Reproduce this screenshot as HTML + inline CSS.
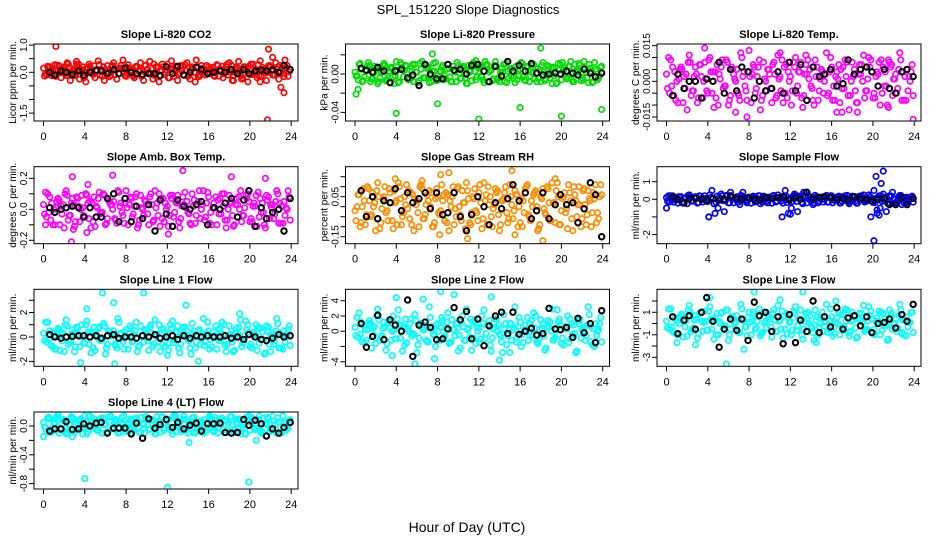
<!DOCTYPE html>
<html><head><meta charset="utf-8"><style>
html,body{margin:0;padding:0;background:#fff;}
svg{display:block;font-family:"Liberation Sans",sans-serif;}
</style></head><body>
<svg id="chart" width="936" height="540" viewBox="0 0 936 540" xmlns="http://www.w3.org/2000/svg">
<rect width="936" height="540" fill="#fff"/>
<text x="468" y="14" text-anchor="middle" font-size="13">SPL_151220  Slope Diagnostics</text>
<text x="467" y="532" text-anchor="middle" font-size="14">Hour of Day (UTC)</text>
</svg>
<script>
// shared time axis (hours)
const T = [0,0.3,0.6,0.9,1.2,1.5,1.8,2.1,2.4,2.7,3,3.3,3.6,3.9,4.2,4.5,4.8,5.1,5.4,5.7,6,6.3,6.6,6.9,7.2,7.5,7.8,8.1,8.4,8.7,9,9.3,9.6,9.9,10.2,10.5,10.8,11.1,11.4,11.7,12,12.3,12.6,12.9,13.2,13.5,13.8,14.1,14.4,14.7,15,15.3,15.6,15.9,16.2,16.5,16.8,17.1,17.4,17.7,18,18.3,18.6,18.9,19.2,19.5,19.8,20.1,20.4,20.7,21,21.3,21.6,21.9,22.2,22.5,22.8,23.1,23.4,23.7];
const BT = [0.6,1.1,1.7,2.2,2.8,3.4,3.9,4.5,5.1,5.6,6.2,6.8,7.3,7.9,8.5,9.0,9.6,10.2,10.8,11.3,11.9,12.5,13.0,13.6,14.2,14.8,15.3,15.9,16.5,17.1,17.6,18.2,18.8,19.4,19.9,20.5,21.1,21.6,22.2,22.8,23.3,23.9];
const xTicks = [0,4,8,12,16,20,24];

const co2Vals = [0.15,-0.1,0.2,0.05,-0.15,0.25,0.1,-0.05,0.3,0.0,-0.12,0.2,0.08,-0.2,0.15,0.22,-0.08,0.05,0.28,-0.15,0.1,0.0,0.2,-0.1,0.12,0.25,-0.05,0.18,0.02,-0.14,0.22,0.08,-0.1,0.26,0.0,0.15,-0.12,0.2,0.05,-0.08,0.3,0.1,-0.15,0.18,-0.02,0.24,0.06,-0.1,0.2,0.0,-0.16,0.25,0.1,-0.05,0.15,-0.12,0.28,0.04,-0.2,0.2,0.35,-0.3,0.1,0.4,-0.25,0.2,-0.35,0.3,0.0,-0.2,0.42,0.1,-0.3,0.25,-0.1,0.35,-0.25,0.15,0.45,-0.15];
const co2OutT = [1.2,21.8,22.2,14.7,23.0,23.3,21.7,3.2,18.4,21.0];
const co2OutV = [0.95,0.85,0.55,-0.35,-0.55,-0.75,-1.75,0.3,-0.3,-0.35];
const co2Black = [0.0,-0.1,0.05,0.0,-0.08,0.05,-0.1,0.0,0.08,0.05,-0.05,0.1,-0.05,0.15,0.0,-0.05,-0.08,-0.05,-0.05,-0.12,0.2,-0.05,0.22,-0.1,0.0,0.18,0.1,-0.05,0.0,0.05,0.0,0.1,-0.05,0.1,-0.05,0.05,0.08,0.05,0.1,0.0,0.25,0.1];

const presVals = [0.002,-0.006,0.005,-0.003,0.008,-0.008,0.001,0.006,-0.004,0.009,-0.007,0.003,0.007,-0.002,-0.009,0.01,0.004,-0.005,0.008,-0.008,0.002,0.011,-0.004,0.006,-0.009,0.003,0.012,-0.006,0.007,-0.002,0.01,-0.008,0.004,0.012,-0.005,0.008,-0.01,0.002,0.011,-0.006,0.006,-0.003,0.013,-0.008,0.004,0.009,-0.006,0.002,0.01,-0.009,0.005,-0.004,0.008,-0.002,0.011,-0.007,0.003,0.009,-0.005,0.006,-0.008,0.002,0.009,-0.004,0.007,-0.01,0.004,0.012,-0.003,0.008,-0.006,0.01,0.002,-0.007,0.013,-0.004,0.006,-0.008,0.003,-0.002];
const presOutT = [0.1,0.3,4.0,8.0,12.0,16.0,20.0,23.9,18.0,7.5,11.7];
const presOutV = [-0.021,-0.016,-0.041,-0.031,-0.047,-0.035,-0.044,-0.037,0.027,0.021,0.014];
const presBlack = [0.006,0.004,0.002,0.007,0.003,-0.009,0.003,0.005,-0.004,-0.001,-0.012,0.01,0.0,-0.005,-0.005,0.01,0.004,0.005,0.0,0.009,0.01,0.003,-0.008,0.008,-0.002,0.013,0.003,0.009,0.003,0.011,0.001,-0.001,0.0,0.001,0.0,0.003,0.001,-0.001,0.005,0.001,-0.003,0.001];

const tempVals = [0.003,-0.005,0.006,-0.008,0.001,0.005,-0.003,0.008,-0.006,0.002,-0.009,0.007,0.0,-0.004,0.01,0.004,-0.007,0.003,0.009,-0.002,-0.01,0.006,0.001,-0.005,0.012,0.004,-0.008,0.002,0.007,-0.003,0.009,-0.006,0.0,0.005,-0.009,0.003,0.011,-0.004,0.006,-0.007,0.002,0.008,-0.005,0.004,-0.011,0.007,0.001,-0.003,0.009,-0.008,0.005,0.0,-0.006,0.01,-0.002,0.004,-0.009,0.006,0.002,-0.012,0.008,-0.004,0.003,0.007,-0.007,0.001,0.009,-0.005,0.004,-0.01,0.006,-0.002,0.008,-0.006,0.003,0.005,-0.008,0.002,-0.004,0.004];
const tempOutT = [3.7,8.0,7.8,11.0,13.5,21.5,23.9,6.7,18.5,16.5,17.0];
const tempOutV = [0.014,0.013,-0.015,0.012,0.011,0.009,-0.016,-0.013,-0.013,-0.013,-0.013];
const tempBlack = [-0.006,0.003,-0.003,0.0,0.0,-0.007,0.001,0.0,0.008,-0.005,0.005,-0.004,0.006,0.004,-0.007,0.0,-0.004,-0.003,0.004,-0.005,0.008,-0.004,0.007,-0.008,0.006,0.002,0.003,0.005,-0.002,-0.001,0.009,0.003,0.005,0.006,0.004,-0.002,0.005,-0.003,-0.005,0.004,0.005,0.002];

const ambVals = [0.03,-0.05,0.08,-0.1,0.01,0.06,-0.03,0.1,-0.07,0.04,-0.11,0.07,0.0,-0.04,0.09,0.05,-0.08,0.02,0.11,-0.02,-0.1,0.06,0.03,-0.06,0.12,0.04,-0.09,0.01,0.08,-0.03,0.1,-0.07,0.0,0.05,-0.1,0.03,0.12,-0.04,0.07,-0.08,0.02,0.09,-0.05,0.04,-0.12,0.08,0.01,-0.03,0.1,-0.09,0.05,0.0,-0.07,0.11,-0.02,0.04,-0.1,0.07,0.02,-0.12,0.09,-0.04,0.03,0.08,-0.08,0.01,0.1,-0.06,0.04,-0.11,0.07,-0.02,0.09,-0.06,0.03,0.05,-0.09,0.02,-0.04,0.12];
const ambOutT = [13.5,6.7,2.8,18.2,21.5,2.7,4.3,12.1,0.2,2.9,4.2];
const ambOutV = [0.25,0.22,0.21,0.21,0.2,-0.21,0.16,-0.16,-0.1,-0.13,-0.15];
const ambBlack = [0.01,-0.02,0.0,0.01,0.02,0.01,-0.05,0.01,-0.05,-0.05,0.07,0.1,-0.08,0.07,-0.08,0.02,-0.06,0.03,-0.14,0.06,-0.03,-0.11,0.06,0.02,0.0,0.03,0.05,-0.1,0.01,0.0,0.04,0.07,-0.05,0.06,0.12,-0.11,0.01,-0.06,-0.02,0.0,-0.14,0.07];

const rhVals = [-0.02,0.06,-0.08,0.03,0.1,-0.05,0.0,0.08,-0.11,0.04,-0.03,0.09,-0.07,0.02,0.12,-0.09,0.05,-0.01,0.07,-0.12,0.03,0.1,-0.06,0.01,0.08,-0.1,0.04,-0.03,0.11,-0.07,0.06,0.0,-0.09,0.09,-0.04,0.02,0.12,-0.08,0.05,-0.02,0.07,-0.11,0.03,0.1,-0.05,0.01,0.08,-0.09,0.04,-0.03,0.11,-0.06,0.06,0.0,-0.1,0.09,-0.04,0.03,0.07,-0.12,0.05,-0.01,0.1,-0.07,0.02,0.08,-0.09,0.04,-0.03,0.11,-0.06,0.06,0.01,-0.1,0.09,-0.04,0.03,0.07,-0.08,0.05];
const rhOutT = [3.9,8.3,9.1,15.2,19.4,18.2,10.9,8.2,15.5,6.5];
const rhOutV = [0.14,0.16,0.17,0.18,0.14,-0.17,-0.16,-0.14,-0.14,0.13];
const rhBlack = [0.08,-0.05,0.05,-0.06,0.03,0.02,0.09,-0.02,0.07,0.02,0.04,0.07,-0.01,0.07,-0.04,-0.03,0.07,-0.05,-0.12,-0.04,0.05,0.0,-0.09,0.02,-0.01,0.04,0.11,0.03,0.07,-0.06,-0.02,0.07,-0.06,0.01,0.06,0.01,0.02,-0.08,-0.01,0.12,0.06,-0.15];

const sampVals = [0.1,-0.15,0.2,-0.05,0.15,-0.2,0.05,0.22,-0.1,0.12,-0.22,0.18,0.0,-0.12,0.25,0.05,-0.18,0.1,0.2,-0.08,-0.2,0.15,0.02,-0.15,0.22,0.08,-0.2,0.05,0.18,-0.1,0.2,-0.16,0.0,0.12,-0.22,0.1,0.25,-0.1,0.15,-0.18,0.05,0.2,-0.12,0.1,-0.25,0.18,0.0,-0.08,0.22,-0.2,0.12,0.0,-0.16,0.2,-0.05,0.1,-0.22,0.15,0.05,-0.25,0.18,-0.1,0.08,0.2,-0.15,0.05,-1.0,0.5,-0.8,-0.5,0.3,-0.7,0.2,0.4,-0.2,0.15,-0.3,0.1,-0.1,0.12];
const sampOutT = [4.1,12.0,20.3,21.0,20.8,20.1,20.4,20.6,13.5,7.4,0.0];
const sampOutV = [-1.0,-0.85,1.3,1.6,0.9,-2.35,-0.6,-0.9,0.4,0.4,-0.5];
const sampBlack = [0.15,0.0,-0.2,0.05,0.05,0.0,-0.05,0.05,-0.05,0.0,0.2,0.05,0.0,0.1,0.0,-0.05,0.1,0.05,0.1,0.15,-0.05,0.1,0.0,0.4,0.05,0.1,0.15,0.1,0.0,0.05,-0.05,0.15,0.05,0.0,-0.1,0.0,0.05,-0.3,-0.3,0.1,-0.3,0.05];

const l1Vals = [0.3,-0.4,0.5,-0.8,0.1,0.6,-0.3,1.0,-0.6,0.2,-1.2,0.7,0.0,-0.5,1.3,0.4,-0.9,0.2,0.8,-0.2,-1.4,0.5,0.1,-0.6,1.5,0.3,-1.0,0.0,0.9,-0.3,1.2,-0.7,0.1,0.5,-1.1,0.3,1.4,-0.4,0.6,-0.8,0.2,1.0,-0.5,0.4,-1.3,0.8,0.0,-0.3,1.1,-0.9,0.5,0.1,-0.7,1.2,-0.2,0.4,-1.0,0.7,0.2,-1.2,0.9,-0.4,0.3,0.8,-0.8,0.1,1.0,-0.6,0.4,-1.1,0.7,-0.2,0.9,-0.6,0.3,0.5,-0.9,0.2,-0.4,0.6];
const l1OutT = [5.7,9.7,6.8,3.6,6.9,13.8,15.0,12.0,4.2,1.2,22.0,19.0];
const l1OutV = [3.6,3.6,2.8,-2.1,-2.2,2.6,-2.0,-1.5,2.3,-1.0,-1.2,1.9];
const l1Black = [0.2,0.0,-0.1,0.0,0.05,0.1,0.1,0.0,0.1,-0.1,0.1,0.2,-0.1,0.0,0.0,-0.1,0.1,0.0,0.2,-0.1,0.0,0.1,-0.2,0.1,-0.1,0.1,0.0,0.1,0.0,0.0,0.1,-0.1,0.0,-0.2,0.2,0.0,-0.2,-0.3,-0.1,0.2,0.0,0.1];

const l2Vals = [0.5,-0.8,1.2,-1.5,0.2,1.0,-0.5,2.0,-1.2,0.4,-2.5,1.4,0.0,-1.0,2.8,0.8,-1.8,0.3,1.6,-0.4,-2.8,1.0,0.2,-1.2,3.2,0.6,-2.0,0.0,1.8,-0.6,2.4,-1.4,0.2,1.0,-2.2,0.6,2.9,-0.8,1.2,-1.6,0.4,2.0,-1.0,0.8,-2.6,1.6,0.0,-0.6,2.2,-1.8,1.0,0.2,-1.4,1.8,-0.4,0.8,-1.2,1.4,0.4,-1.6,1.5,-0.6,0.5,1.2,-1.2,0.2,1.6,-0.9,0.6,-1.5,1.0,-0.3,1.4,-0.9,0.5,0.8,-1.4,0.3,-0.6,1.0];
const l2OutT = [8.3,5.8,4.0,9.6,13.2,14.0,7.7,10.0,3.6,15.0,6.6];
const l2OutV = [5.2,-4.3,4.4,4.8,4.5,-3.8,-3.6,-2.6,-3.2,-2.8,4.2];
const l2Black = [1.0,-2.1,-0.7,2.1,-1.1,1.5,0.8,0.0,4.1,-3.3,0.8,1.2,0.5,-1.1,-1.0,0.3,3.1,1.5,2.6,-1.0,1.6,-1.9,0.7,2.0,2.5,-0.3,2.5,-0.4,0.0,0.4,-0.5,-0.3,3.0,0.3,0.2,0.5,-0.8,1.7,-0.2,1.0,-1.5,2.7];

const l3Vals = [0.2,-0.5,0.6,-0.9,0.0,0.8,-0.3,1.2,-0.7,0.3,-1.3,0.9,0.1,-0.6,1.5,0.4,-1.0,0.2,1.0,-0.2,-1.5,0.6,0.0,-0.7,1.7,0.3,-1.1,0.1,1.0,-0.4,1.3,-0.8,0.2,0.6,-1.2,0.3,1.6,-0.5,0.7,-0.9,0.2,1.1,-0.6,0.4,-1.4,0.9,0.0,-0.4,1.2,-1.0,0.6,0.1,-0.8,1.3,-0.3,0.5,-1.0,0.8,0.2,-1.1,1.0,-0.4,0.4,0.9,-0.7,0.2,1.1,-0.5,0.5,-1.0,0.9,-0.2,1.2,-0.5,0.4,0.7,-0.8,0.3,-0.3,1.0];
const l3OutT = [5.8,8.5,13.2,7.5,4.2,11.0,16.4,1.0,2.8,14.5,22.8];
const l3OutV = [-3.6,2.8,2.8,-2.3,2.3,2.1,2.0,-1.7,-1.9,-1.7,-0.9];
const l3Black = [0.6,-0.9,0.3,0.7,-0.5,1.0,2.3,0.2,-2.1,-0.5,0.4,-0.6,0.4,-1.5,1.9,0.7,1.0,-0.7,0.6,-1.8,0.8,-1.7,0.3,-0.7,2.0,-0.8,0.6,-0.3,1.4,-0.5,0.5,0.7,-0.2,0.6,-0.8,0.0,0.1,0.4,-0.4,0.8,0.2,1.7];

const l4Vals = [0.05,-0.08,0.1,-0.03,0.12,-0.1,0.02,0.08,-0.06,0.13,-0.09,0.04,0.1,-0.02,-0.11,0.14,0.06,-0.05,0.09,-0.1,0.03,0.12,-0.04,0.07,-0.1,0.05,0.14,-0.06,0.08,-0.02,0.11,-0.09,0.04,0.13,-0.05,0.09,-0.11,0.02,0.12,-0.06,0.07,-0.03,0.14,-0.08,0.05,0.1,-0.06,0.02,0.11,-0.1,0.06,-0.04,0.09,-0.02,0.12,-0.08,0.03,0.1,-0.05,0.07,-0.09,0.02,0.1,-0.04,0.08,-0.11,0.05,0.13,-0.03,0.09,-0.07,0.11,0.02,-0.08,0.14,-0.04,0.06,-0.09,0.03,-0.02];
const l4OutT = [4.0,12.0,19.9,14.1,20.6,0.0,1.4,2.8];
const l4OutV = [-0.73,-0.85,-0.78,-0.23,-0.2,-0.15,0.16,-0.15];
const l4Black = [-0.07,-0.04,-0.04,0.06,-0.05,-0.04,0.03,0.0,0.04,0.05,-0.1,-0.03,-0.03,-0.03,-0.11,0.04,-0.17,0.1,-0.03,0.02,0.09,-0.02,0.05,-0.04,0.01,0.04,-0.07,0.03,0.03,0.04,-0.09,-0.1,-0.09,0.09,0.01,0.08,0.03,-0.14,-0.04,-0.1,-0.02,0.05];

// y tick values and labels per panel
const co2Ticks=[-1.5,-1,-0.5,0,0.5,1], co2Labels=["-1.5","","","0.0","","1.0"];
const presTicks=[-0.04,-0.02,0,0.02], presLabels=["-0.04","","0.00",""];
const tempTicks=[-0.015,-0.01,-0.005,0,0.005,0.01,0.015], tempLabels=["-0.015","","","0.000","","","0.015"];
const ambTicks=[-0.2,-0.1,0,0.1,0.2], ambLabels=["-0.2","","0.0","","0.2"];
const rhTicks=[-0.15,-0.1,-0.05,0,0.05,0.1,0.15], rhLabels=["-0.15","","","","0.05","",""];
const sampTicks=[-2,-1,0,1], sampLabels=["-2","","0","1"];
const l1Ticks=[-2,-1,0,1,2,3], l1Labels=["-2","","0","","2",""];
const l2Ticks=[-4,-2,0,2,4], l2Labels=["-4","","0","2","4"];
const l3Ticks=[-3,-2,-1,0,1,2], l3Labels=["-3","","-1","","1",""];
const l4Ticks=[-0.8,-0.6,-0.4,-0.2,0], l4Labels=["-0.8","","-0.4","","0.0"];

// replicate passes to mimic dense sampling: time offset (h) and index shift
const passOffsets=[0,0.1,0.2], passShifts=[0,29,53];

const NS="http://www.w3.org/2000/svg";
const svg=document.getElementById('chart');
const colL=[34,345.5,657], rowT=[44,166.7,289.3,412], BW=264, BH=77;
function mk(tag,attrs,parent){const e=document.createElementNS(NS,tag);for(const k in attrs)e.setAttribute(k,attrs[k]);(parent||svg).appendChild(e);return e;}

const panels=[
 {id:'co2',title:'Slope Li-820 CO2',yl:'Licor ppm per min.',c:0,r:0,lo:-1.79,hi:1.04,col:'#ff0000',v:co2Vals,ot:co2OutT,ov:co2OutV,b:co2Black,tk:co2Ticks,tl:co2Labels},
 {id:'pressure',title:'Slope Li-820 Pressure',yl:'kPa per min.',c:1,r:0,lo:-0.049,hi:0.0313,col:'#00dd00',v:presVals,ot:presOutT,ov:presOutV,b:presBlack,tk:presTicks,tl:presLabels},
 {id:'temp',title:'Slope Li-820 Temp.',yl:'degrees C per min.',c:2,r:0,lo:-0.0167,hi:0.0157,col:'#ff00ff',v:tempVals,ot:tempOutT,ov:tempOutV,b:tempBlack,tk:tempTicks,tl:tempLabels},
 {id:'amb-box',title:'Slope Amb. Box Temp.',yl:'degrees C per min.',c:0,r:1,lo:-0.222,hi:0.275,col:'#ff00ff',v:ambVals,ot:ambOutT,ov:ambOutV,b:ambBlack,tk:ambTicks,tl:ambLabels},
 {id:'rh',title:'Slope Gas Stream RH',yl:'percent per min.',c:1,r:1,lo:-0.185,hi:0.2,col:'#ff8c00',v:rhVals,ot:rhOutT,ov:rhOutV,b:rhBlack,tk:rhTicks,tl:rhLabels},
 {id:'sample-flow',title:'Slope Sample Flow',yl:'ml/min per min.',c:2,r:1,lo:-2.52,hi:1.85,col:'#0000ff',v:sampVals,ot:sampOutT,ov:sampOutV,b:sampBlack,tk:sampTicks,tl:sampLabels},
 {id:'line1',title:'Slope Line 1 Flow',yl:'ml/min per min.',c:0,r:2,lo:-2.4,hi:3.9,col:'#00ffff',v:l1Vals,ot:l1OutT,ov:l1OutV,b:l1Black,tk:l1Ticks,tl:l1Labels},
 {id:'line2',title:'Slope Line 2 Flow',yl:'ml/min per min.',c:1,r:2,lo:-4.6,hi:5.5,col:'#00ffff',v:l2Vals,ot:l2OutT,ov:l2OutV,b:l2Black,tk:l2Ticks,tl:l2Labels},
 {id:'line3',title:'Slope Line 3 Flow',yl:'ml/min per min.',c:2,r:2,lo:-3.8,hi:3.04,col:'#00ffff',v:l3Vals,ot:l3OutT,ov:l3OutV,b:l3Black,tk:l3Ticks,tl:l3Labels},
 {id:'line4',title:'Slope Line 4 (LT) Flow',yl:'ml/min per min.',c:0,r:3,lo:-0.875,hi:0.194,col:'#00ffff',v:l4Vals,ot:l4OutT,ov:l4OutV,b:l4Black,tk:l4Ticks,tl:l4Labels}
];

panels.forEach(p=>{
  const L=colL[p.c], Tp=rowT[p.r], B=Tp+BH;
  const xs=h=>L+9.5+h*(247.7/24);
  const ys=v=>B-(v-p.lo)/(p.hi-p.lo)*BH;
  const g=mk('g',{});
  
  
  const clip=mk('clipPath',{id:'clip-'+p.id},g);
  mk('rect',{x:L,y:Tp,width:BW,height:BH},clip);
  const pts=mk('g',{'clip-path':'url(#clip-'+p.id+')'},g);
  
  
  const n=Math.min(T.length,p.v.length);
  passOffsets.forEach((off,k)=>{
    for(let i=0;i<n;i++){
      const h=T[i]+off; if(h>24) continue;
      const c=mk('circle',{cx:xs(h),cy:ys(p.v[(i+passShifts[k])%n]),r:2.7,fill:'none',stroke:p.col,'stroke-width':1.7},pts);
      
      
    }
  });
  for(let i=0;i<p.ot.length;i++){
    const c=mk('circle',{cx:xs(p.ot[i]),cy:ys(p.ov[i]),r:2.7,fill:'none',stroke:p.col,'stroke-width':1.7},pts);
    
    
  }
  const nb=Math.min(BT.length,p.b.length);
  for(let i=0;i<nb;i++){
    const c=mk('circle',{cx:xs(BT[i]),cy:ys(p.b[i]),r:2.7,fill:'none',stroke:'#000','stroke-width':2},pts);
    
    
  }
  const box=mk('rect',{x:L,y:Tp,width:BW,height:BH,fill:'none',stroke:'#000','stroke-width':1},g);
  
  
  const t=mk('text',{x:L+BW/2,y:Tp-6,'text-anchor':'middle','font-size':11,'font-weight':'bold'},g);
  t.textContent=p.title;
  
  
  xTicks.forEach(h=>{
    mk('line',{x1:xs(h),x2:xs(h),y1:B,y2:B+5,stroke:'#000'},g);
    const tx=mk('text',{x:xs(h),y:B+19,'text-anchor':'middle','font-size':11},g);
    tx.textContent=String(h);
    
    
  });
  p.tk.forEach((v,i)=>{
    const y=ys(v);
    mk('line',{x1:L-5,x2:L,y1:y,y2:y,stroke:'#000'},g);
    if(p.tl[i]){
      const ty=mk('text',{x:0,y:0,'text-anchor':'middle','font-size':10,transform:'translate('+(L-7)+','+y+') rotate(-90)'},g);
      ty.textContent=p.tl[i];
      
      
    }
  });
  const yl=mk('text',{x:0,y:0,'text-anchor':'middle','font-size':10,transform:'translate('+(L-18)+','+(Tp+BH/2)+') rotate(-90)'},g);
  yl.textContent=p.yl;
  
  
});
</script>
</body></html>
